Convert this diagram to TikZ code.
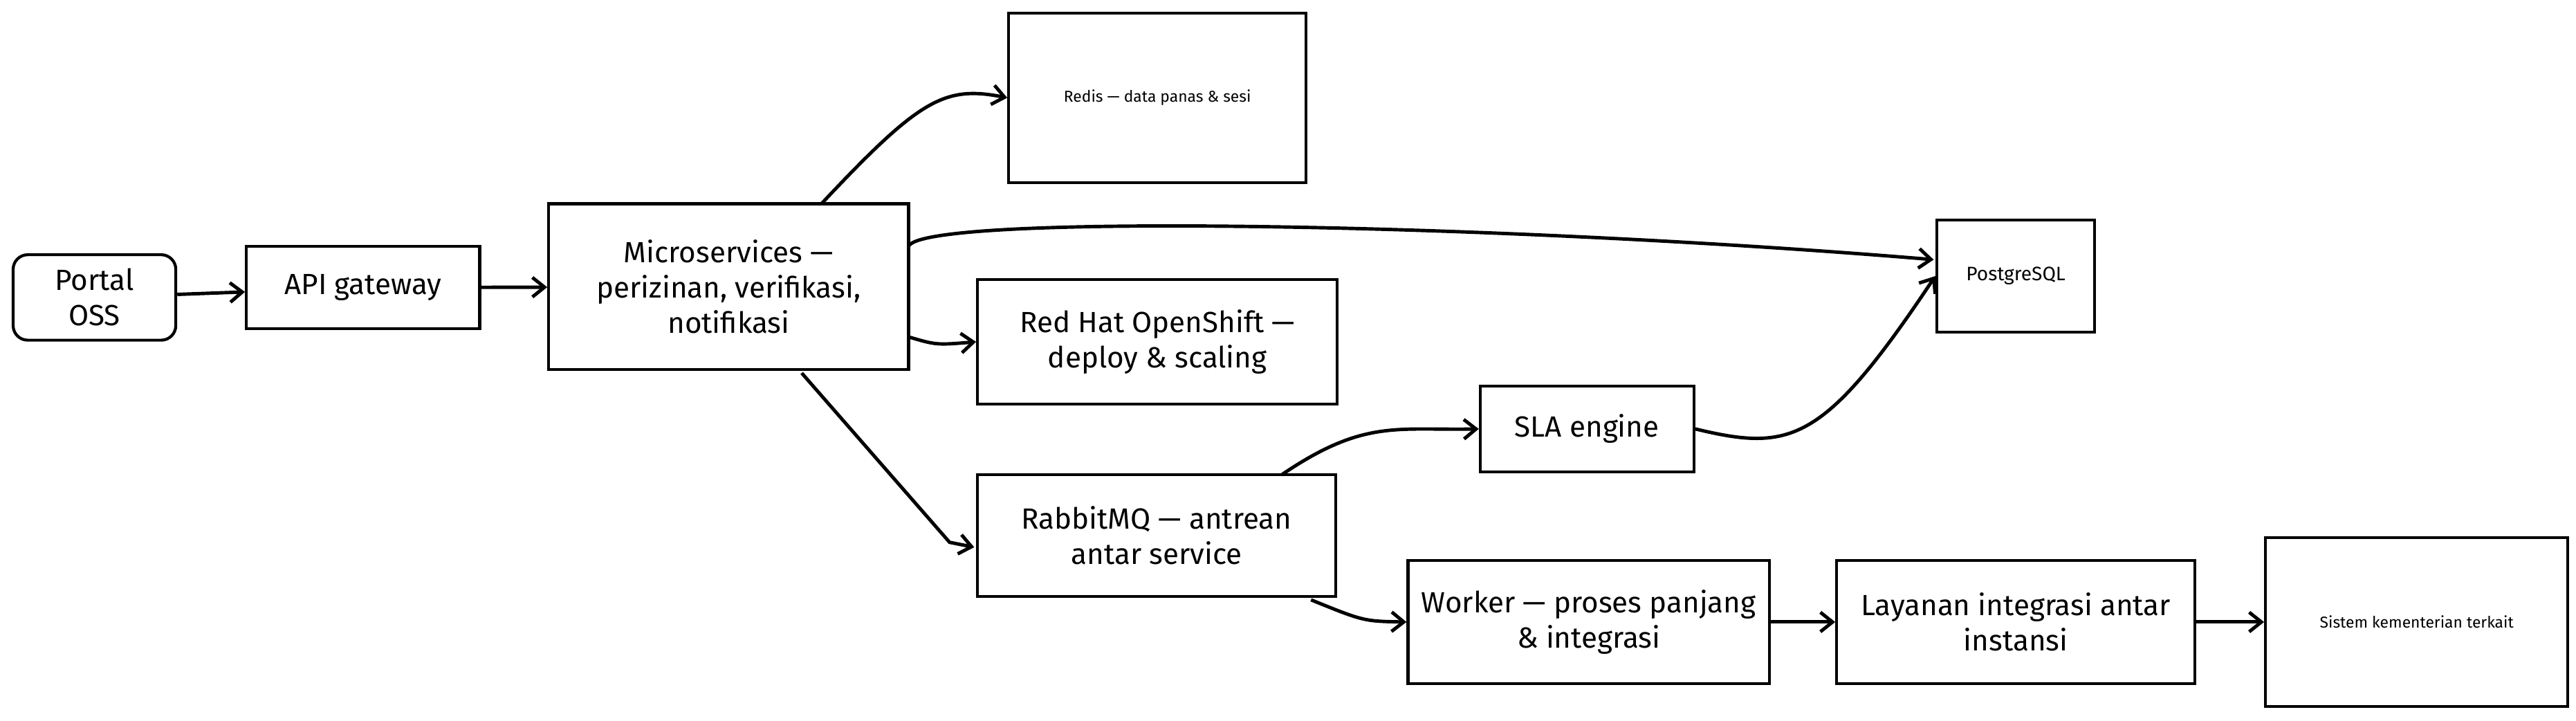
\documentclass[tikz,border=0pt]{standalone}
\usepackage{fontspec}
\setmainfont{Fira Sans}
\usetikzlibrary{arrows.meta}
\begin{document}
\begin{tikzpicture}[x=0.02375cm,y=-0.02375cm,
 box/.style={draw,line width=1.2pt,inner sep=0pt,align=center,font=\fontsize{12}{14.5}\selectfont},
 sm/.style={box,font=\fontsize{6.5}{8}\selectfont},
 ar/.style={draw,line width=1.4pt,-{Straight Barb[length=5pt,width=8pt]}}]
\useasboundingbox (0,0) rectangle (1568,438.7);
\def\bx#1#2#3#4#5#6{\node[#6,minimum width={(#4-#2)*0.02375cm},minimum height={(#5-#3)*0.02375cm}] (#1) at ({(#2+#4)/2},{(#3+#5)/2})}
\bx{portal}{8}{155}{107}{207}{box,rounded corners=6pt}{Portal\\OSS};
\bx{api}{150}{150}{292}{200}{box}{API gateway};
\bx{micro}{334}{124}{553}{225}{box}{Microservices —\\perizinan, verifikasi,\\notifikasi};
\bx{redis}{614}{8}{795}{111}{sm}{Redis — data panas \& sesi};
\bx{pg}{1179}{134}{1275}{202}{sm,font=\fontsize{8}{10}\selectfont}{PostgreSQL};
\bx{os}{595}{170}{814}{246}{box}{Red Hat OpenShift —\\deploy \& scaling};
\bx{sla}{901}{235}{1031}{287}{box}{SLA engine};
\bx{rmq}{595}{289}{813}{363}{box}{RabbitMQ — antrean\\antar service};
\bx{worker}{857}{341}{1077}{416}{box}{Worker — proses panjang\\\& integrasi};
\bx{lay}{1118}{341}{1336}{416}{box}{Layanan integrasi antar\\instansi};
\bx{sis}{1379}{327}{1563}{430}{sm}{Sistem kementerian terkait};
\draw[ar] (portal) -- (api);
\draw[ar] (api) -- (micro);
\draw[ar] (500,124) .. controls (560,60) and (575,52) .. (redis.west);
\draw[ar] (553,150) .. controls (560,130) and (900,135) .. (1177,158);
\draw[ar] (553,205) .. controls (570,210) .. (os.west);
\draw[ar] (488,227) -- (578,330) -- (593,333);
\draw[ar] (780,289) .. controls (830,255) and (850,262) .. (sla.west);
\draw[ar] (sla.east) .. controls (1090,275) and (1110,270) .. (1178,168);
\draw[ar] (798,365) .. controls (830,378) .. (worker.west);
\draw[ar] (worker) -- (lay);
\draw[ar] (lay) -- (sis);
\end{tikzpicture}
\end{document}
